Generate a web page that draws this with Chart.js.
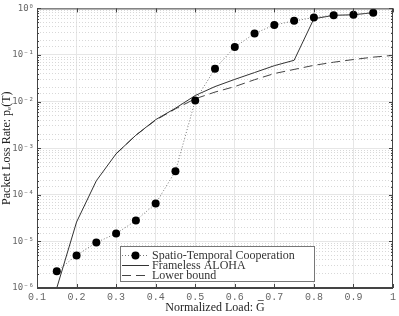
<!DOCTYPE html>
<html>
<head>
<meta charset="utf-8">
<script src="https://cdn.jsdelivr.net/npm/chart.js@4/dist/chart.umd.min.js"></script>
<style>
  body { margin: 0; background: #fff; }
  canvas { display: block; }
</style>
</head>
<body>
<canvas id="plr" width="399" height="316"></canvas>
<script>
// normalized load (x) for the simulated points
const loads = [0.15, 0.2, 0.25, 0.3, 0.35, 0.4, 0.45, 0.5, 0.55, 0.6, 0.65, 0.7, 0.75, 0.8, 0.85, 0.9, 0.95];
const stc = [2.3e-6, 5e-6, 9.5e-6, 1.47e-5, 2.8e-5, 6.5e-5, 3.2e-4, 1.05e-2, 5.1e-2, 0.148, 0.29, 0.44, 0.54, 0.635, 0.71, 0.73, 0.81];
const frameless = [1e-6, 2.6e-5, 2e-4, 7.6e-4, 1.9e-3, 4.1e-3, 7.2e-3, 1.35e-2, 2.1e-2, 3.0e-2, 4.2e-2, 5.9e-2, 7.7e-2, 0.6, 0.71, 0.73, 0.81];
// lower bound
const boundLoads = [0.3, 0.35, 0.4, 0.45, 0.5, 0.55, 0.6, 0.65, 0.7, 0.75, 0.8, 0.85, 0.9, 0.95, 1.0];
const bound = [7.6e-4, 1.9e-3, 4.0e-3, 7e-3, 1.15e-2, 1.6e-2, 2.1e-2, 2.95e-2, 4.0e-2, 4.9e-2, 6e-2, 7e-2, 8e-2, 9e-2, 0.098];

const labels = ['Spatio-Temporal Cooperation', 'Frameless ALOHA', 'Lower bound'];

const pts = (xs, ys) => xs.map((x, i) => ({x: x, y: ys[i]}));
const isDecade = v => Math.abs(Math.log10(v) - Math.round(Math.log10(v))) < 1e-6;
const sup = {'-': '\u207B', '0': '\u2070', '1': '\u00B9', '2': '\u00B2', '3': '\u00B3', '4': '\u2074', '5': '\u2075', '6': '\u2076'};

// box round the plot, inward ticks, the G overline and the legend
const frame = {
  id: 'frame',
  afterDatasetsDraw(chart) {
    const {ctx, chartArea: a, scales} = chart;
    ctx.save();
    ctx.strokeStyle = '#444';
    ctx.lineWidth = 1;
    ctx.strokeRect(a.left + 0.5, a.top + 0.5, a.right - a.left - 1, a.bottom - a.top - 1);
    ctx.beginPath();
    scales.y.ticks.forEach(t => {
      const y = Math.round(scales.y.getPixelForValue(t.value)) + 0.5;
      const len = isDecade(t.value) ? 4 : 2;
      ctx.moveTo(a.left, y); ctx.lineTo(a.left + len, y);
      ctx.moveTo(a.right, y); ctx.lineTo(a.right - len, y);
    });
    scales.x.ticks.forEach(t => {
      const x = Math.round(scales.x.getPixelForValue(t.value)) + 0.5;
      ctx.moveTo(x, a.bottom); ctx.lineTo(x, a.bottom - 4);
      ctx.moveTo(x, a.top); ctx.lineTo(x, a.top + 4);
    });
    ctx.stroke();

    // legend
    const lx = 120, ly = 246, lw = 194, lh = 35;
    ctx.fillStyle = '#fff';
    ctx.fillRect(lx, ly, lw, lh);
    ctx.strokeStyle = '#777';
    ctx.strokeRect(lx + 0.5, ly + 0.5, lw, lh);
    ctx.font = '12px "Liberation Serif"';
    ctx.textBaseline = 'middle';
    chart.data.datasets.forEach((ds, i) => {
      const y = ly + 9 + i * 10;
      ctx.strokeStyle = ds.borderColor;
      ctx.lineWidth = 1;
      ctx.setLineDash(ds.borderDash || []);
      ctx.beginPath();
      ctx.moveTo(lx + 2, y + 0.5); ctx.lineTo(lx + 29, y + 0.5);
      ctx.stroke();
      ctx.setLineDash([]);
      if (ds.pointRadius) {
        ctx.fillStyle = '#000';
        ctx.beginPath();
        ctx.arc(lx + 15.5, y + 0.5, ds.pointRadius, 0, Math.PI * 2);
        ctx.fill();
      }
      ctx.fillStyle = '#333';
      ctx.fillText(ds.label, lx + 32, y + 1);
    });
    ctx.restore();
  }
};

new Chart(document.getElementById('plr'), {
  type: 'line',
  data: {
    datasets: [{
      label: labels[0],
      data: pts(loads, stc),
      borderColor: '#777',
      borderWidth: 1,
      borderDash: [1, 2],
      pointRadius: 4,
      pointBackgroundColor: '#000',
      pointBorderColor: '#000',
      pointBorderWidth: 0
    }, {
      label: labels[1],
      data: pts(loads, frameless),
      borderColor: '#333',
      borderWidth: 1,
      pointRadius: 0
    }, {
      label: labels[2],
      data: pts(boundLoads, bound),
      borderColor: '#444',
      borderWidth: 1,
      borderDash: [9, 5],
      pointRadius: 0
    }]
  },
  options: {
    responsive: false,
    animation: false,
    layout: {padding: {top: 4, right: 0, left: 0, bottom: 0}},
    plugins: {legend: {display: false}, tooltip: {enabled: false}},
    scales: {
      x: {
        type: 'linear',
        min: 0.1,
        max: 1,
        ticks: {
          stepSize: 0.1,
          padding: 3,
          color: '#666',
          font: {family: '"Liberation Mono"', size: 10},
          callback: v => Math.round(v * 10) / 10
        },
        grid: {color: '#e6e6e6', drawTicks: false},
        border: {color: '#444'},
        title: {
          display: true,
          text: 'Normalized Load: G\u0305',
          color: '#222',
          font: {family: '"Liberation Serif"', size: 12},
          padding: {top: 0, bottom: 1}
        },
        afterFit: s => { s.height = 28; }
      },
      y: {
        type: 'logarithmic',
        min: 1e-6,
        max: 1,
        ticks: {
          autoSkip: false,
          padding: 3,
          color: '#666',
          font: {family: '"DejaVu Sans Mono"', size: 9},
          callback: v => isDecade(v) ? '10' + String(Math.round(Math.log10(v))).split('').map(c => sup[c]).join('') : ''
        },
        grid: {
          drawTicks: false,
          color: c => (c.tick && isDecade(c.tick.value)) ? '#e6e6e6' : 'rgba(0,0,0,0)'
        },
        border: {color: '#444'},
        title: {
          display: true,
          text: 'Packet Loss Rate: p\u2091(T)',
          color: '#222',
          font: {family: '"Liberation Serif"', size: 12},
          padding: {top: 0, bottom: 2}
        },
        afterFit: s => { s.width = 37; }
      },
      yMinor: {
        type: 'logarithmic',
        position: 'left',
        min: 1e-6,
        max: 1,
        ticks: {display: false},
        grid: {
          drawTicks: false,
          color: c => (c.tick && !isDecade(c.tick.value)) ? '#d8d8d8' : 'rgba(0,0,0,0)'
        },
        border: {display: false, dash: [1, 2]},
        afterFit: s => { s.width = 0; }
      }
    }
  },
  plugins: [frame]
});
</script>
</body>
</html>
